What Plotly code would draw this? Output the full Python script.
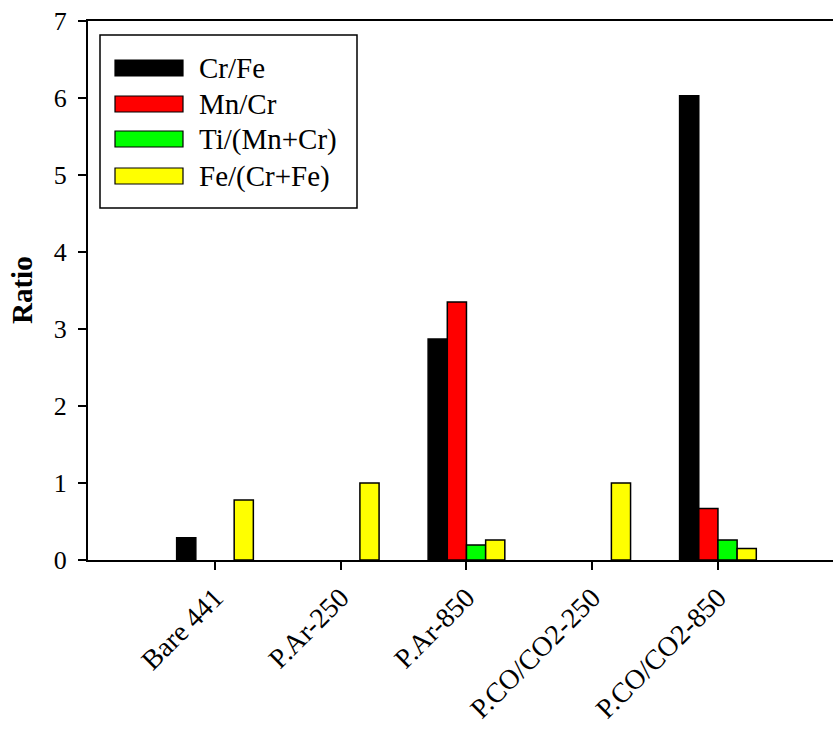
import plotly.graph_objects as go

categories = ["Bare 441", "P.Ar-250", "P.Ar-850", "P.CO/CO2-250", "P.CO/CO2-850"]
series_names = ["Cr/Fe", "Mn/Cr", "Ti/(Mn+Cr)", "Fe/(Cr+Fe)"]
cr_fe = [0.29, None, 2.87, None, 6.03]
mn_cr = [None, None, 3.35, None, 0.67]
ti_mn_cr = [None, None, 0.195, None, 0.26]
fe_cr_fe = [0.78, 1.00, 0.26, 1.00, 0.15]
colors = ["#000000", "#FF0000", "#00FF00", "#FFFF00"]
y_ticks = [0, 1, 2, 3, 4, 5, 6, 7]

W, H = 833, 730
PL, PR, PT, PB = 88, 833, 21, 560  # plot-area pixel box
L, T, R, B = PL, PT, W - PR, H - PB
FONT = "Liberation Serif, Times New Roman, serif"

fig = go.Figure()
for name, vals, col in zip(series_names, [cr_fe, mn_cr, ti_mn_cr, fe_cr_fe], colors):
    fig.add_trace(go.Bar(
        x=categories, y=vals, name=name,
        marker=dict(color=col, line=dict(color="#000000", width=1.5)),
        showlegend=False,
    ))

pw = PR - PL
ph = PB - PT
def px(x):
    return (x - PL) / pw
def py(y):
    return (PB - y) / ph

shapes = [dict(type="rect", xref="paper", yref="paper",
               x0=px(100), x1=px(357), y0=py(208), y1=py(35),
               line=dict(color="#000000", width=1.5), fillcolor="white", layer="above")]
annotations = []
centers = [68, 104, 139, 176]
for name, col, cy in zip(series_names, colors, centers):
    shapes.append(dict(type="rect", xref="paper", yref="paper",
                       x0=px(115), x1=px(183), y0=py(cy + 8), y1=py(cy - 8),
                       line=dict(color="#000000", width=1.2), fillcolor=col, layer="above"))
    annotations.append(dict(xref="paper", yref="paper", x=px(197), y=py(cy),
                            text=name, showarrow=False, xanchor="left", yanchor="middle",
                            font=dict(family=FONT, size=29, color="#000000")))

annotations.append(dict(xref="paper", yref="paper", x=px(22), y=py(290),
                        text="<b>Ratio</b>", showarrow=False, textangle=-90,
                        xanchor="center", yanchor="middle",
                        font=dict(family=FONT, size=29, color="#000000")))

fig.update_layout(
    width=W, height=H,
    margin=dict(l=L, r=R, t=T, b=B, pad=0),
    plot_bgcolor="white", paper_bgcolor="white",
    barmode="group", bargap=0.39, bargroupgap=0,
    font=dict(family=FONT, color="#000000"),
    shapes=shapes, annotations=annotations,
)
fig.update_xaxes(
    type="category", categoryorder="array", categoryarray=categories,
    range=[-1.01, 4.915], automargin=False,
    showline=True, linecolor="#000000", linewidth=2, mirror=True,
    ticks="outside", ticklen=8, tickwidth=2, tickcolor="#000000",
    tickangle=-45, tickfont=dict(family=FONT, size=28, color="#000000"),
    showgrid=False, zeroline=False,
)
fig.update_yaxes(
    range=[0, 7], tickvals=y_ticks, ticktext=[str(v) for v in y_ticks],
    automargin=False, mirror=False,
    showline=True, linecolor="#000000", linewidth=2,
    ticks="outside", ticklen=8, tickwidth=2, tickcolor="#000000",
    tickfont=dict(family=FONT, size=26, color="#000000"),
    ticklabelstandoff=6,
    showgrid=False, zeroline=False,
)

fig.write_html(
    "out.html",
    config={"displayModeBar": False, "staticPlot": True},
    post_script="document.body.style.margin='0';document.body.style.overflow='hidden';",
)
